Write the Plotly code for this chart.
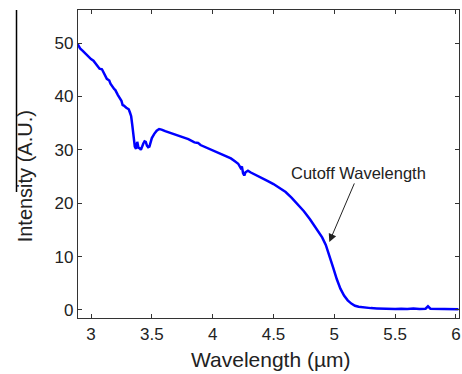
import plotly.graph_objects as go

wavelength = [2.89, 2.91, 2.93, 2.95, 2.97, 3.00, 3.02, 3.04, 3.07, 3.09, 3.10, 3.13, 3.15, 3.16,
              3.19, 3.20, 3.22, 3.25, 3.26, 3.27, 3.29,
              3.31, 3.32, 3.33, 3.34, 3.35, 3.36, 3.37, 3.38, 3.39, 3.40, 3.41, 3.42, 3.43, 3.44,
              3.45, 3.46, 3.47, 3.48, 3.49, 3.50, 3.52, 3.54, 3.56, 3.58, 3.61, 3.65, 3.70, 3.75,
              3.80, 3.85, 3.88, 3.90, 3.95, 4.00, 4.05, 4.10, 4.15, 4.18, 4.21, 4.23, 4.24, 4.25, 4.26,
              4.27, 4.29, 4.31, 4.35, 4.40, 4.45, 4.50, 4.55, 4.60, 4.65, 4.70, 4.75, 4.80, 4.85,
              4.90, 4.93, 4.96, 4.99, 5.02, 5.05, 5.08, 5.11, 5.14, 5.17, 5.20, 5.25, 5.30, 5.35,
              5.40, 5.45, 5.50, 5.55, 5.60, 5.65, 5.70, 5.75, 5.77, 5.79, 5.85, 5.90, 5.95, 6.00, 6.02]
intensity = [49.8, 49.0, 48.6, 48.1, 47.6, 47.0, 46.7, 46.0, 45.2, 45.1, 44.6, 43.3, 43.0, 42.4,
             41.4, 41.2, 40.3, 39.2, 38.4, 38.3, 37.9,
             37.6, 37.0, 36.3, 34.5, 32.5, 30.6, 30.2, 31.5, 30.4, 30.3, 30.0, 30.8, 31.2, 31.6,
             31.5, 30.8, 30.5, 30.6, 31.3, 32.2, 33.0, 33.6, 33.9, 33.8, 33.5, 33.2, 32.8, 32.4,
             32.0, 31.4, 31.3, 30.9, 30.4, 30.0, 29.5, 29.0, 28.4, 27.9, 27.4, 26.6, 26.9, 25.6, 25.2,
             25.8, 26.1, 25.8, 25.3, 24.8, 24.2, 23.6, 22.9, 22.1, 21.0, 19.8, 18.5, 17.0, 15.4,
             13.6, 12.2, 10.3, 8.0, 5.8, 4.0, 2.7, 1.8, 1.2, 0.8, 0.6, 0.45, 0.35, 0.3,
             0.25, 0.3, 0.2, 0.25, 0.2, 0.3, 0.2, 0.25, 0.7, 0.25, 0.2, 0.25, 0.2, 0.1, 0.15]

x_ticks = [3, 3.5, 4, 4.5, 5, 5.5, 6]
x_tick_labels = ["3", "3.5", "4", "4.5", "5", "5.5", "6"]
y_ticks = [0, 10, 20, 30, 40, 50]
y_tick_labels = ["0", "10", "20", "30", "40", "50"]

FONT = "Arial, Liberation Sans, sans-serif"

fig = go.Figure()
fig.add_trace(go.Scatter(x=wavelength, y=intensity, mode="lines",
                         line=dict(color="#0000FF", width=2.5), showlegend=False))

axis_common = dict(showline=True, linecolor="#333333", linewidth=1.2, mirror="ticks",
                   ticks="inside", ticklen=4, tickcolor="#333333", tickwidth=1,
                   showgrid=False, zeroline=False, automargin=False,
                   tickfont=dict(family=FONT, size=17, color="#222222"))

fig.update_xaxes(range=[2.893, 6.025], tickmode="array", tickvals=x_ticks,
                 ticktext=x_tick_labels, **axis_common)
fig.update_yaxes(range=[-1.5, 56.2], tickmode="array", tickvals=y_ticks,
                 ticktext=y_tick_labels, **axis_common)

fig.add_annotation(x=4.959, y=12.75, xref="x", yref="y", text="Cutoff Wavelength",
                   showarrow=True, ax=29.5, ay=-69, arrowhead=2, arrowsize=1.6,
                   arrowwidth=1, arrowcolor="#222222",
                   font=dict(family=FONT, size=16.5, color="#222222"))

fig.add_annotation(x=0.507, y=-0.136, xref="paper", yref="paper", text="Wavelength (µm)",
                   showarrow=False, xanchor="center", yanchor="middle",
                   font=dict(family=FONT, size=21, color="#222222"))
fig.add_annotation(x=-0.139, y=0.46, xref="paper", yref="paper", text="Intensity (A.U.)",
                   showarrow=False, xanchor="center", yanchor="middle", textangle=-90,
                   font=dict(family=FONT, size=20, color="#222222"))

fig.add_shape(type="line", xref="paper", yref="paper", x0=-0.1614, x1=-0.1614,
              y0=0.409, y1=1.0, line=dict(color="black", width=1.5))

fig.update_layout(width=462, height=374, margin=dict(l=78, r=3, t=10, b=56, autoexpand=False),
                  plot_bgcolor="white", paper_bgcolor="white")

fig.write_html("out.html", config={"displayModeBar": False},
               post_script="document.body.style.margin='0';document.body.style.overflow='hidden';")
